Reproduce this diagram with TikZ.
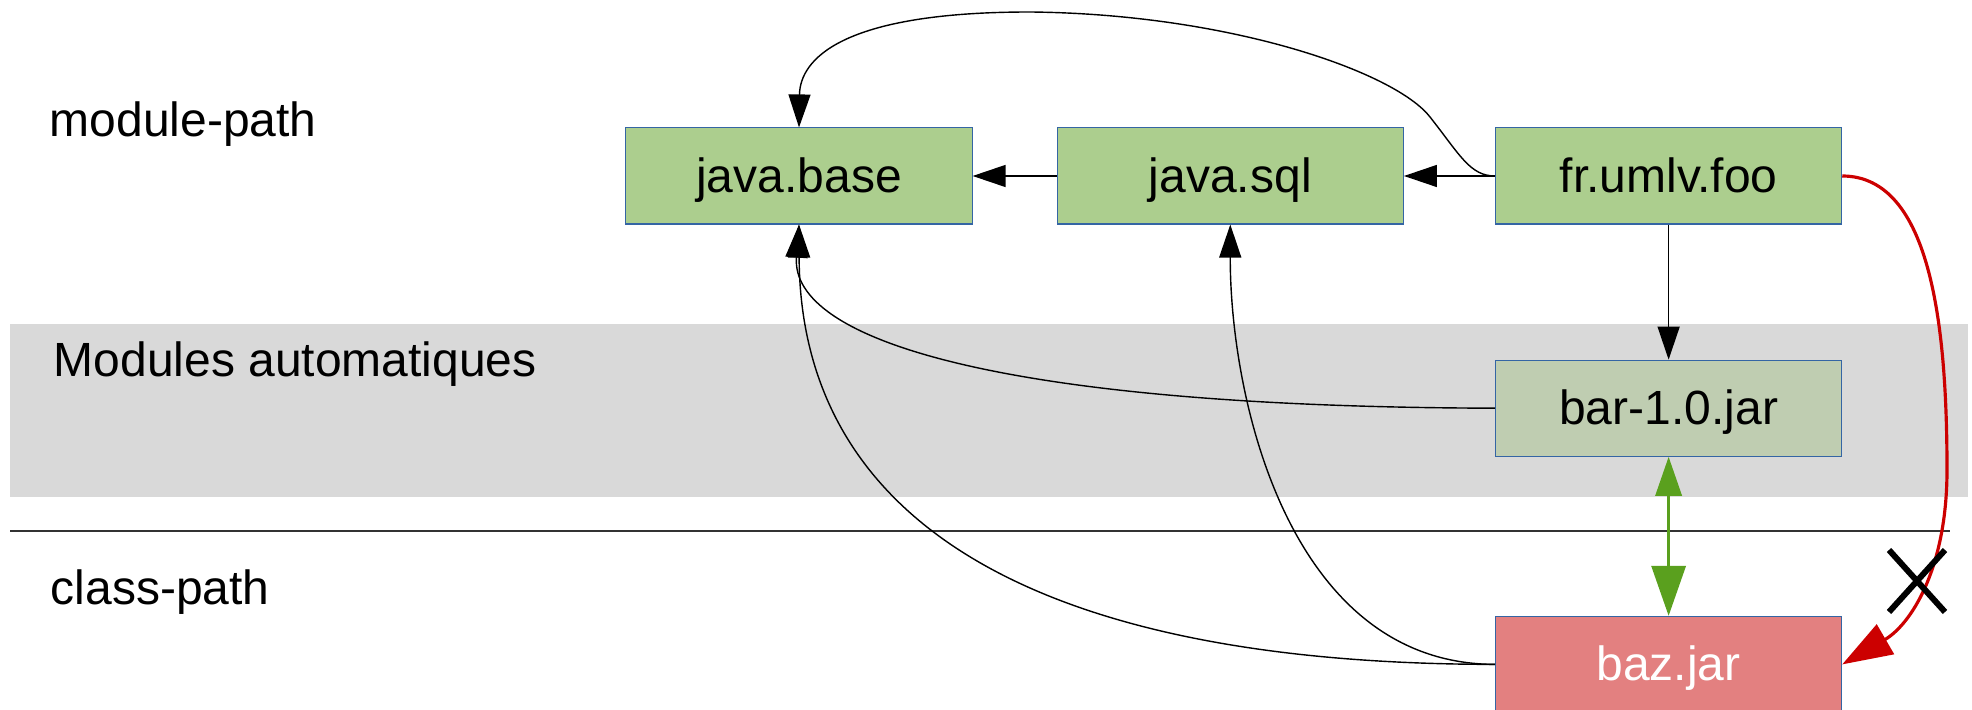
\documentclass[tikz,border=0pt]{standalone}
\usepackage{xcolor}
\usepackage{fontspec}
\setmainfont{Liberation Sans}
\usetikzlibrary{shapes, arrows.meta, positioning}

\definecolor{modgreen}{HTML}{ACCE8E}
\definecolor{autogreen}{HTML}{BFCDB1}
\definecolor{jarred}{HTML}{E38080}
\definecolor{boxblue}{HTML}{3465A4}
\definecolor{bandgray}{HTML}{D9D9D9}
\definecolor{linegray}{HTML}{333333}
\definecolor{limegreen}{HTML}{5AA01E}
\definecolor{denyred}{HTML}{CC0000}

\begin{document}
\begin{tikzpicture}[x=0.01cm, y=-0.01cm, >={Triangle[length=3.3mm,width=2.2mm]},
      box node/.style={rectangle, draw=boxblue, line width=0.3pt, minimum width=3.46cm,
        minimum height=0.96cm, inner sep=0pt, text height=12.3pt, text depth=2.9pt,
        font=\fontsize{13.65}{16}\selectfont},
      module node/.style={box node, fill=modgreen},
      auto node/.style={box node, fill=autogreen},
      jar node/.style={box node, fill=jarred, text=white},
      lane node/.style={anchor=base west, inner sep=0pt, font=\fontsize{13.65}{16}\selectfont}]

    \useasboundingbox (0,0) rectangle (1972,710);
    \fill[bandgray] (10,324) rectangle (1968,497);
    \draw[linegray, line width=0.4pt] (10,531) -- (1950,531);

    \node[lane node] (mp) at (49,137) {module-path};
    \node[lane node] (ma) at (53,377) {Modules automatiques};
    \node[lane node] (cp) at (50,605) {class-path};

    \node[module node] (base) at (799,176) {java.base};
    \node[module node] (sql) [right=0.84cm of base] {java.sql};
    \node[module node] (foo) [right=0.91cm of sql] {fr.umlv.foo};
    \node[auto node] (bar) [below=1.35cm of foo] {bar-1.0.jar};
    \node[jar node] (baz) [below=1.59cm of bar] {baz.jar};

    \path[->, line width=0.4pt]
        (foo) edge (sql)
        (sql) edge (base)
        (foo) edge (bar)
    ;
    \draw[->, line width=0.4pt] (foo.west) .. controls (1470,176) and (1460,155) .. (1430,117)
        .. controls (1395,72) and (1230,14) .. (1030,12)
        .. controls (840,12) and (800,60) .. (base.north);
    \draw[->, line width=0.4pt] (bar.west) .. controls (1000,407) and (790,340) .. (base.south);
    \draw[->, line width=0.4pt] (baz.west) .. controls (1000,664) and (800,500) .. (base.south);
    \draw[->, line width=0.4pt] (baz.west) .. controls (1290,664) and (1230,400) .. (sql.south);

    \draw[{Triangle[length=3.9mm,width=2.6mm]}-{Triangle[length=5mm,width=3.4mm]},
        limegreen, line width=0.95pt] (bar) -- (baz);
    \draw[-{Triangle[length=5mm,width=3.4mm]}, denyred, line width=0.9pt]
        (foo.east) .. controls (1932,176) and (1947,330) .. (1947,470)
        .. controls (1947,570) and (1910,625) .. (baz.east);
    \node[cross out, draw, line width=1.7pt, minimum width=0.5cm, minimum height=0.56cm,
        inner sep=0pt] (nope) at (1917,581) {};
\end{tikzpicture}
\end{document}
